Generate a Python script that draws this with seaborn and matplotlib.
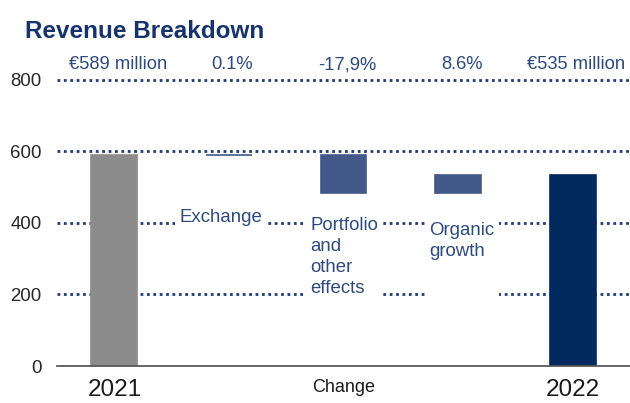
import numpy as np
import pandas as pd
import matplotlib
matplotlib.use("Agg")
import matplotlib.pyplot as plt
import seaborn as sns

# revenue in EUR million
start_label = "2021"
end_label = "2022"
revenue_2021 = 589
revenue_2022 = 535
change_names = ["Exchange", "Portfolio", "Organic"]
change_values = [0.6, -105.5, 50.9]
top_labels = ["€589 million", "0.1%", "-17,9%", "8.6%", "€535 million"]
inner_labels = ["Exchange", "Portfolio\nand\nother\neffects", "Organic\ngrowth\n\n "]
y_ticks = [0, 200, 400, 600, 800]

# waterfall: floating bars for the changes
categories = [start_label] + change_names + [end_label]
running = revenue_2021 + np.cumsum([0] + change_values[:-1])
bottoms = [0] + [r + min(v, 0) for r, v in zip(running, change_values)] + [0]
heights = [revenue_2021] + [abs(v) for v in change_values] + [revenue_2022]
df = pd.DataFrame({"step": categories, "height": heights})

navy = "#002A5E"
steel = "#43598A"
grey = "#8C8C8C"
text_blue = "#2E4A7D"
bar_colors = [grey, steel, steel, steel, navy]

sns.set_style("white")
plt.rcParams["font.family"] = ["Liberation Sans", "DejaVu Sans"]

fig = plt.figure(figsize=(6.3, 4.03), dpi=100)
ax = fig.add_axes([0.0905, 0.0918, 0.9095, 0.7186])

sns.barplot(data=df, x="step", y="height", order=categories, width=0.4,
            errorbar=None, color=grey, saturation=1, bottom=bottoms,
            facecolor=bar_colors, edgecolor=bar_colors, linewidth=1.2,
            ax=ax, zorder=2)

ax.set_xlim(-0.5, 4.5)
ax.set_ylim(0, 810)
ax.set_yticks(y_ticks)
ax.set_axisbelow(True)
ax.yaxis.grid(True, color="#1F3C7A", linestyle=(0, (1, 1.3)), linewidth=2)
for line in ax.get_ygridlines()[:1]:
    line.set_visible(False)

sns.despine(ax=ax, left=True, top=True, right=True)
ax.spines["bottom"].set_color("#595959")
ax.spines["bottom"].set_linewidth(1.3)
ax.spines["bottom"].set_zorder(3)

ax.tick_params(axis="y", length=0, pad=11, labelsize=13.4, labelcolor="#262626")
ax.tick_params(axis="x", length=0, pad=9)
ax.set_xticks(range(5))
ax.set_xticklabels([start_label, "", "Change", "", end_label])
for i, lab in enumerate(ax.get_xticklabels()):
    lab.set_color("#1A1A1A")
    lab.set_fontsize(13 if i == 2 else 17.5)
ax.set_xlabel("")
ax.set_ylabel("")

# percentage / totals above the chart
for i, txt in enumerate(top_labels):
    ax.text(i + 0.03, 843, txt, ha="center", va="center", fontsize=13.2,
            color=text_blue, clip_on=False)

# change labels inside the plot with white boxes over the grid
box = dict(facecolor="white", edgecolor="none", pad=3)
ax.text(0.93, 416, inner_labels[0], ha="center", va="center", fontsize=13.4,
        color=text_blue, bbox=box, zorder=3)
ax.text(1.71, 417, inner_labels[1], ha="left", va="top", fontsize=13.4,
        color=text_blue, linespacing=1.3, bbox=box, zorder=3)
ax.text(2.75, 403, inner_labels[2], ha="left", va="top", fontsize=13.4,
        color=text_blue, linespacing=1.3, bbox=box, zorder=3)

fig.text(0.04, 0.922, "Revenue Breakdown", ha="left", va="center",
         fontsize=17.5, fontweight="bold", color="#17336B")

fig.savefig("out.png", dpi=100)
